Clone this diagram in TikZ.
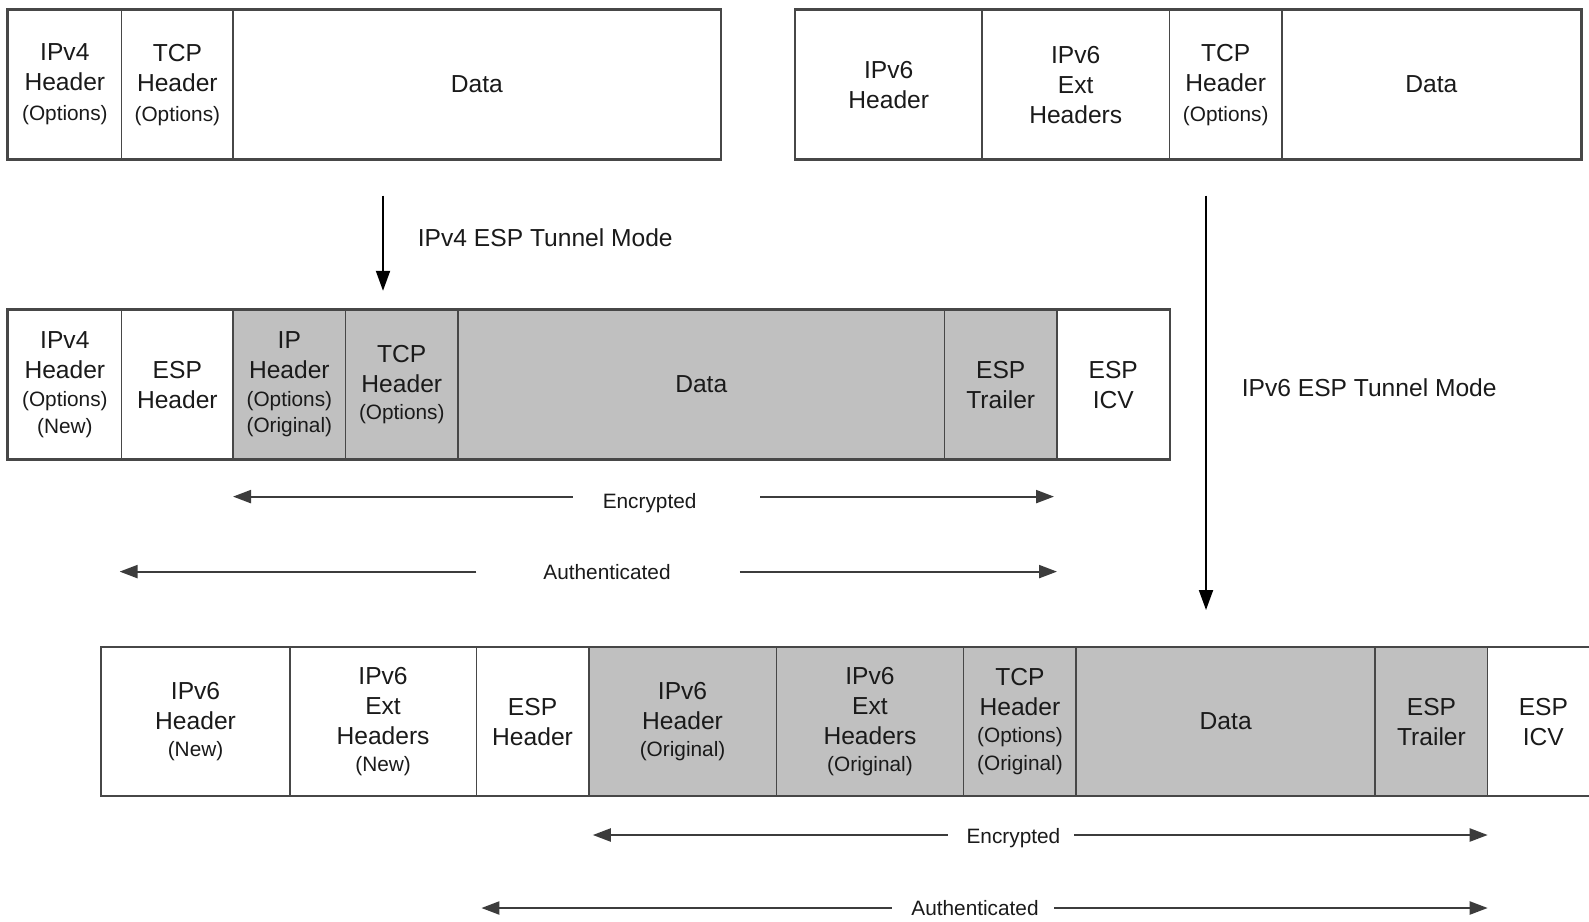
\documentclass[tikz,border=0pt]{standalone}
\usepackage{fontspec}
\setmainfont{Liberation Sans}
\usetikzlibrary{arrows.meta}
\definecolor{cellgray}{HTML}{C0C0C0}
\definecolor{ink}{HTML}{1A1A1A}
\definecolor{edge}{HTML}{474747}
\newcommand\sm[1]{{\fontsize{10.4}{13}\selectfont #1}}
\newcommand\pcell[7]{\node[cellbox, fill=#6, minimum width={(#3-#2)*0.5pt}, minimum height={(#5-#4)*0.5pt}] (#1) at ({(#2+#3)/2},{(#4+#5)/2}) {#7};}
\begin{document}
\begin{tikzpicture}[x=0.5pt, y=-0.5pt,
  cellbox/.style={draw=edge, line width=0.75pt, align=center, inner sep=0pt, text=ink, font=\fontsize{12.3}{15}\selectfont},
  outerbox/.style={draw=edge, line width=0.95pt},
  spanarrow/.style={draw=edge!85!black, line width=1.1pt, -{Triangle[length=9pt,width=6.5pt]}},
  downarrow/.style={draw=black, line width=1pt, -{Triangle[length=10pt,width=7pt]}},
  lbl/.style={text=ink, font=\fontsize{10.4}{13}\selectfont, inner sep=0pt},
  titlelbl/.style={text=ink, font=\fontsize{12.3}{15}\selectfont, inner sep=0pt, anchor=west}]
\clip (0,0) rectangle (1589,921);
\fill[white] (0,0) rectangle (1589,921);
% Row 1 left
\pcell{r1a}{8.1}{121.6}{10.1}{159.1}{white}{IPv4\\Header\\\sm{(Options)}}
\pcell{r1b}{121.6}{233.1}{10.1}{159.1}{white}{TCP\\Header\\\sm{(Options)}}
\pcell{r1c}{233.1}{720.5}{10.1}{159.1}{white}{Data}
\draw[outerbox] (r1a.north west) rectangle (r1c.south east);
% Row 1 right
\pcell{r1d}{795.5}{982}{10.1}{159.1}{white}{IPv6\\Header}
\pcell{r1e}{982}{1169.5}{10.1}{159.1}{white}{IPv6\\Ext\\Headers}
\pcell{r1f}{1169.5}{1281.9}{10.1}{159.1}{white}{TCP\\Header\\\sm{(Options)}}
\pcell{r1g}{1281.9}{1580.9}{10.1}{159.1}{white}{Data}
\draw[outerbox] (r1d.north west) rectangle (r1g.south east);
% Row 2
\pcell{r2a}{8.1}{121.6}{310.1}{459.1}{white}{IPv4\\Header\\[-1pt]\sm{(Options)}\\[-1.5pt]\sm{(New)}}
\pcell{r2b}{121.6}{233.1}{310.1}{459.1}{white}{ESP\\Header}
\pcell{r2c}{233.1}{345.6}{310.1}{459.1}{cellgray}{IP\\Header\\[-1pt]\sm{(Options)}\\[-2pt]\sm{(Original)}}
\pcell{r2d}{345.6}{458}{310.1}{459.1}{cellgray}{TCP\\Header\\[-1.5pt]\sm{(Options)}}
\pcell{r2e}{458}{944.5}{310.1}{459.1}{cellgray}{Data}
\pcell{r2f}{944.5}{1057}{310.1}{459.1}{cellgray}{ESP\\Trailer}
\pcell{r2g}{1057}{1169.5}{310.1}{459.1}{white}{ESP\\ICV}
\draw[outerbox] (r2a.north west) rectangle (r2g.south east);
% Row 3
\pcell{r3a}{101.3}{289.8}{647.6}{795.5}{white}{IPv6\\Header\\[-1.5pt]\sm{(New)}}
\pcell{r3b}{289.8}{476.3}{647.6}{795.5}{white}{IPv6\\Ext\\Headers\\[-1.5pt]\sm{(New)}}
\pcell{r3c}{476.3}{588.8}{647.6}{795.5}{white}{ESP\\Header}
\pcell{r3d}{588.8}{776.3}{647.6}{795.5}{cellgray}{IPv6\\Header\\[-1.5pt]\sm{(Original)}}
\pcell{r3e}{776.3}{963.7}{647.6}{795.5}{cellgray}{IPv6\\Ext\\Headers\\[-1.5pt]\sm{(Original)}}
\pcell{r3f}{963.7}{1076.2}{647.6}{795.5}{cellgray}{TCP\\Header\\[-1.5pt]\sm{(Options)}\\[-1pt]\sm{(Original)}}
\pcell{r3g}{1076.2}{1375.2}{647.6}{795.5}{cellgray}{Data}
\pcell{r3h}{1375.2}{1487.7}{647.6}{795.5}{cellgray}{ESP\\Trailer}
\pcell{r3i}{1487.7}{1599}{647.6}{795.5}{white}{ESP\\ICV}
\draw[outerbox] (r3a.north west) rectangle (r3i.south east);
% Tunnel mode arrows
\coordinate (a1s) at (383,195.6);
\coordinate (a1e) at (383,290.8);
\draw[downarrow] (a1s) -- (a1e);
\node[titlelbl] (t1) at (417.5,238) {IPv4 ESP Tunnel Mode};
\coordinate (a2s) at (1206,195.6);
\coordinate (a2e) at (1206,610);
\draw[downarrow] (a2s) -- (a2e);
\node[titlelbl] (t2) at (1241.4,388) {IPv6 ESP Tunnel Mode};
% Encrypted / Authenticated (IPv4)
\node[lbl] (enc1) at (649.6,503) {Encrypted};
\coordinate (enc1l) at (572.6,496.6); \coordinate (enc1a) at (233,496.6);
\coordinate (enc1r) at (760,496.6);   \coordinate (enc1b) at (1054,496.6);
\draw[spanarrow] (enc1l) -- (enc1a);
\draw[spanarrow] (enc1r) -- (enc1b);
\node[lbl] (aut1) at (607,571.6) {Authenticated};
\coordinate (aut1l) at (476.3,571.6); \coordinate (aut1a) at (119.6,571.6);
\coordinate (aut1r) at (739.8,571.6); \coordinate (aut1b) at (1057,571.6);
\draw[spanarrow] (aut1l) -- (aut1a);
\draw[spanarrow] (aut1r) -- (aut1b);
% Encrypted / Authenticated (IPv6)
\node[lbl] (enc2) at (1013.4,838) {Encrypted};
\coordinate (enc2l) at (947.5,835);  \coordinate (enc2a) at (592.8,835);
\coordinate (enc2r) at (1074.2,835); \coordinate (enc2b) at (1487.7,835);
\draw[spanarrow] (enc2l) -- (enc2a);
\draw[spanarrow] (enc2r) -- (enc2b);
\node[lbl] (aut2) at (975,908) {Authenticated};
\coordinate (aut2l) at (891.8,908); \coordinate (aut2a) at (481.4,908);
\coordinate (aut2r) at (1054,908);  \coordinate (aut2b) at (1487.7,908);
\draw[spanarrow] (aut2l) -- (aut2a);
\draw[spanarrow] (aut2r) -- (aut2b);
\end{tikzpicture}
\end{document}
